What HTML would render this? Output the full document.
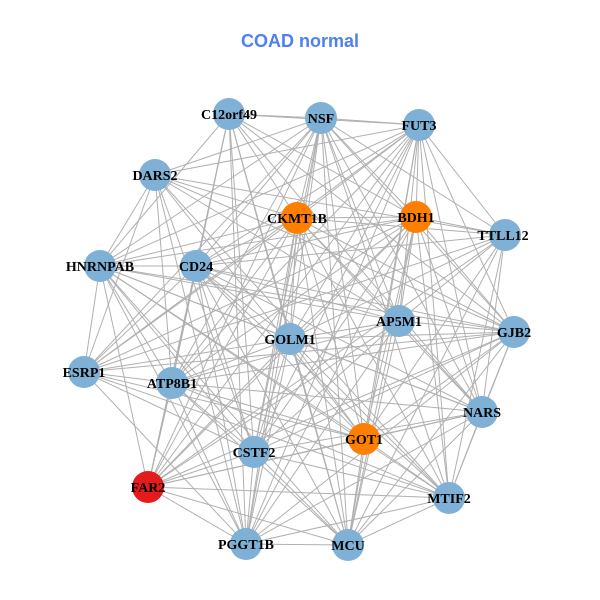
<!DOCTYPE html>
<html><head><meta charset="utf-8"><style>
html,body{margin:0;padding:0;background:#fff;}
svg{display:block;}
text{font-family:"Liberation Serif",serif;font-weight:bold;font-size:14px;fill:#000;}
.t{font-family:"Liberation Sans",sans-serif;font-size:18px;fill:#4f7ff0;}
</style></head><body>
<svg id="s" width="600" height="600" viewBox="0 0 600 600">
<text class="t" x="300" y="47" text-anchor="middle">COAD normal</text>
<g id="e" stroke="#b0b0b0" stroke-width="1"></g>
<g id="n"></g>
<g id="l" text-anchor="middle">
<text x="229" y="119">C12orf49</text>
<text x="321" y="123">NSF</text>
<text x="419" y="130">FUT3</text>
<text x="155" y="180">DARS2</text>
<text x="297" y="223">CKMT1B</text>
<text x="416" y="222">BDH1</text>
<text x="503" y="240">TTLL12</text>
<text x="100" y="271">HNRNPAB</text>
<text x="196" y="271">CD24</text>
<text x="399" y="326">AP5M1</text>
<text x="514" y="337">GJB2</text>
<text x="290" y="344">GOLM1</text>
<text x="84" y="377">ESRP1</text>
<text x="172" y="388">ATP8B1</text>
<text x="482" y="417">NARS</text>
<text x="364" y="444">GOT1</text>
<text x="254" y="457">CSTF2</text>
<text x="148" y="492">FAR2</text>
<text x="449" y="503">MTIF2</text>
<text x="246" y="549">PGGT1B</text>
<text x="348" y="550">MCU</text>
</g>
</svg>
<script>
var N=[[229,114,0],[321,118,0],[419,125,0],[155,175,0],[297,218,1],[416,217,1],[505,235,0],[100,266,0],[196,266,0],[399,321,0],[514,332,0],[290,339,0],[84,372,0],[172,383,0],[482,412,0],[364,439,1],[254,452,0],[148,487,2],[449,498,0],[246,544,0],[348,545,0]];
var C=["#7fb0d5","#ff7f00","#e41a1c"];
var ns="http://www.w3.org/2000/svg",e=document.getElementById("e"),n=document.getElementById("n");
for(var i=0;i<N.length;i++)for(var j=i+1;j<N.length;j++){
 if((i*7+j*3)%9==0)continue;
 var L=document.createElementNS(ns,"line");
 L.setAttribute("x1",N[i][0]);L.setAttribute("y1",N[i][1]);L.setAttribute("x2",N[j][0]);L.setAttribute("y2",N[j][1]);
 e.appendChild(L);}
N.forEach(function(p){var c=document.createElementNS(ns,"circle");c.setAttribute("cx",p[0]);c.setAttribute("cy",p[1]);c.setAttribute("r",16);c.setAttribute("fill",C[p[2]]);n.appendChild(c);});
</script>
</body></html>
